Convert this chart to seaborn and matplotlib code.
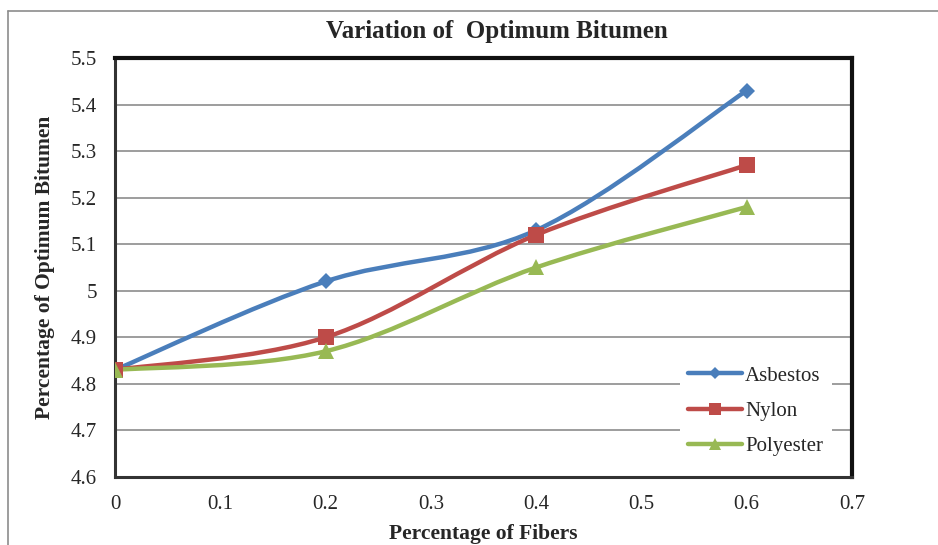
import numpy as np
import pandas as pd
import matplotlib.pyplot as plt
import seaborn as sns
from matplotlib.path import Path
from matplotlib.patches import PathPatch
from matplotlib.lines import Line2D

# ==========================================
# DATA
# ==========================================

fibers = [0, 0.2, 0.4, 0.6]
asbestos = [4.83, 5.02, 5.13, 5.43]
nylon = [4.83, 4.90, 5.12, 5.27]
polyester = [4.83, 4.87, 5.05, 5.18]

series_names = ["Asbestos", "Nylon", "Polyester"]
colors = ["#4A7EBB", "#BE4B48", "#98B954"]
markers = ["D", "s", "^"]
marker_sizes = [8, 11, 11]

df = pd.DataFrame({
    "Fiber": fibers * 3,
    "Bitumen": asbestos + nylon + polyester,
    "Series": sum([[n] * len(fibers) for n in series_names], [])
})

# ==========================================
# STYLE
# ==========================================

sns.set_style("white")
plt.rcParams["font.family"] = ["Liberation Serif", "DejaVu Serif"]

fig = plt.figure(figsize=(9.38, 5.45), dpi=100)
ax = fig.add_axes([0.1226, 0.1248, 0.7857, 0.7688])


def smooth_path(xs, ys):
    # Excel-style smoothed line: cubic bezier through each point
    pts = np.column_stack([xs, ys])
    n = len(pts)
    verts = [pts[0]]
    codes = [Path.MOVETO]
    for i in range(n - 1):
        p0 = pts[max(i - 1, 0)]
        p1 = pts[i]
        p2 = pts[i + 1]
        p3 = pts[min(i + 2, n - 1)]
        c1 = p1 + (p2 - p0) / 6
        c2 = p2 - (p3 - p1) / 6
        verts += [c1, c2, p2]
        codes += [Path.CURVE4] * 3
    return Path(verts, codes)


for name, color in zip(series_names, colors):
    sub = df[df["Series"] == name]
    patch = PathPatch(
        smooth_path(sub["Fiber"].values, sub["Bitumen"].values),
        facecolor="none", edgecolor=color, linewidth=3.2,
        capstyle="round", joinstyle="round", zorder=3
    )
    ax.add_patch(patch)

for name, color, m, ms in zip(series_names, colors, markers, marker_sizes):
    sub = df[df["Series"] == name]
    sns.lineplot(
        data=sub, x="Fiber", y="Bitumen", ax=ax,
        color=color, marker=m, markersize=ms, linewidth=0,
        markeredgewidth=0, legend=False, zorder=4
    )

# ==========================================
# AXES
# ==========================================

ax.set_xlim(0, 0.7)
ax.set_ylim(4.6, 5.5)
ax.set_xticks(np.arange(0, 0.71, 0.1))
ax.set_xticklabels(["0", "0.1", "0.2", "0.3", "0.4", "0.5", "0.6", "0.7"])
ax.set_yticks(np.arange(4.6, 5.51, 0.1))
ax.set_yticklabels(["4.6", "4.7", "4.8", "4.9", "5", "5.1", "5.2", "5.3", "5.4", "5.5"])
ax.tick_params(axis="both", labelsize=15, direction="out", length=4,
               width=1, color="#808080")
ax.tick_params(axis="x", pad=9)
ax.tick_params(axis="y", pad=9)
ax.yaxis.grid(True, color="#8C8C8C", linewidth=1.2)
ax.set_axisbelow(True)

for side in ["top", "right"]:
    ax.spines[side].set_color("#111111")
    ax.spines[side].set_linewidth(3)
for side in ["left", "bottom"]:
    ax.spines[side].set_color("#333333")
    ax.spines[side].set_linewidth(2.2)

ax.set_xlabel("Percentage of Fibers", fontsize=15.5, fontweight="bold", labelpad=7)
ax.set_ylabel("Percentage of Optimum Bitumen", fontsize=15.5, fontweight="bold", labelpad=11)
fig.text(0.53, 0.943, "Variation of  Optimum Bitumen", fontsize=18,
         fontweight="bold", ha="center", va="center")

handles = [
    Line2D([0], [0], color=c, linewidth=3.2, marker=m, markersize=ms * 0.8,
           markeredgewidth=0, solid_capstyle="round")
    for c, m, ms in zip(colors, markers, marker_sizes)
]
leg = ax.legend(handles, series_names, loc="lower right",
                bbox_to_anchor=(0.978, 0.02), fontsize=15, frameon=True,
                handlelength=2.6, handletextpad=0.15, labelspacing=0.75,
                borderaxespad=0.2)
leg.get_frame().set_facecolor("white")
leg.get_frame().set_edgecolor("none")
leg.get_frame().set_alpha(1)

# outer chart border
fig.add_artist(Line2D([8 / 938, 8 / 938], [0, 1 - 11 / 545],
                      transform=fig.transFigure, color="#8C8C8C", linewidth=1.2))
fig.add_artist(Line2D([8 / 938, 1], [1 - 11 / 545, 1 - 11 / 545],
                      transform=fig.transFigure, color="#8C8C8C", linewidth=1.2))

fig.savefig("out.png", dpi=100)
